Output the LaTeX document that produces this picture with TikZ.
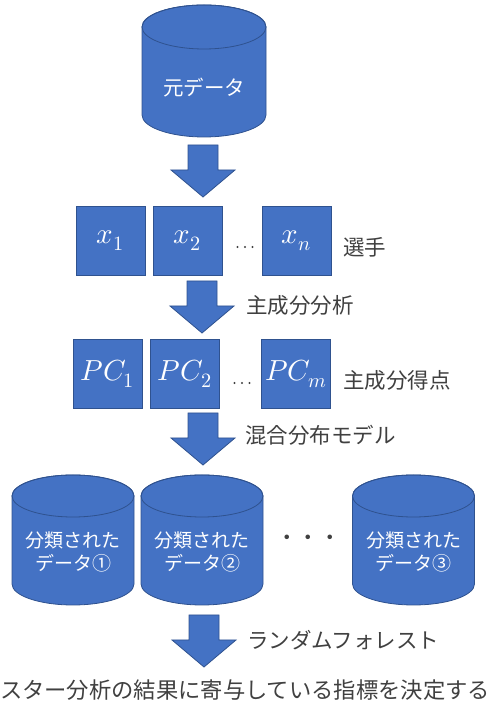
\documentclass[tikz,border=0pt]{standalone}
\usepackage{fontspec}
\usepackage{unicode-math}
\newfontfamily\jp{Noto Sans CJK JP}
\definecolor{fillb}{HTML}{4472C4}
\definecolor{edgeb}{HTML}{2F528F}
\definecolor{labc}{HTML}{404040}
\tikzset{
  blk/.style={fill=fillb,draw=edgeb,line width=0.8pt},
  sq/.style={blk,minimum size=69pt,inner sep=0pt,text=white,font=\fontsize{29}{31}\selectfont},
  lbl/.style={text=labc,font=\jp\fontsize{21.5}{24}\selectfont,anchor=west,inner sep=0pt},
  cyltext/.style={text=white,font=\jp\fontsize{19}{23}\selectfont,align=center,inner sep=0pt},
}
% cylinder: cx, ytop, ybottom, a, b
\newcommand\cylshape[5]{%
  \filldraw[blk] (#1-#4,#2-#5) -- (#1-#4,#3+#5)
    arc[start angle=180,end angle=360,x radius=#4pt,y radius=#5pt]
    -- (#1+#4,#2-#5)
    arc[start angle=0,end angle=180,x radius=#4pt,y radius=#5pt] -- cycle;
  \draw[edgeb,line width=0.8pt] (#1,#2-#5) ellipse[x radius=#4pt,y radius=#5pt];
}
% block arrow: cx, ytop
\newcommand\barrow[2]{%
  \filldraw[blk] (#1-15,#2) -- (#1+15,#2) -- (#1+15,#2-25) -- (#1+32,#2-25)
    -- (#1,#2-52) -- (#1-32,#2-25) -- (#1-15,#2-25) -- cycle;
}
\begin{document}
\begin{tikzpicture}[x=1pt,y=1pt]
\useasboundingbox (0,0) rectangle (490,709);

% top cylinder
\cylshape{204}{704}{572}{62}{22}
\node[text=white,font=\jp\fontsize{20.5}{24}\selectfont,inner sep=0pt] (src) at (204,621) {元データ};

\barrow{203}{564}

% players
\node[sq] (x1) at (110.5,468.5) {$x_1$};
\node[sq] (x2) at (187.5,468.5) {$x_2$};
\node[sq] (xn) at (296.5,468.5) {$x_n$};
\foreach \dx in {-7.5,0,7.5} \fill[labc] (245+\dx,462) circle (1.1pt);
\node[lbl] (players) at (343,462) {選手};

\barrow{202}{428}
\node[lbl] (pca) at (246,404) {主成分分析};

% principal component scores
\node[sq] (pc1) at (107.5,335.5) {$PC_1$};
\node[sq] (pc2) at (185,335.5) {$PC_2$};
\node[sq] (pcm) at (296,335.5) {$PC_m$};
\foreach \dx in {-7.5,0,7.5} \fill[labc] (242+\dx,326) circle (1.1pt);
\node[lbl] (scores) at (343,329) {主成分得点};

\barrow{203}{296}
\node[lbl] (gmm) at (245,274) {混合分布モデル};

% classified data
\cylshape{73}{234}{104}{61}{21}
\cylshape{202}{234}{104}{61}{21}
\cylshape{413.5}{234}{104}{61}{21}
\node[cyltext] (d1) at (73,157.5) {分類された\\データ①};
\node[cyltext] (d2) at (202,157.5) {分類された\\データ②};
\node[cyltext] (d3) at (413.5,157.5) {分類された\\データ③};
\node[text=labc,font=\jp\fontsize{21.5}{24}\selectfont,inner sep=0pt] (ddots) at (308.5,169) {・・・};

\barrow{204}{94}
\node[lbl] (rf) at (247,69) {ランダムフォレスト};

\node[text=labc,font=\jp\fontsize{22.3}{24}\selectfont,inner sep=0pt] (result) at (245,19) {スター分析の結果に寄与している指標を決定する};
\end{tikzpicture}
\end{document}
